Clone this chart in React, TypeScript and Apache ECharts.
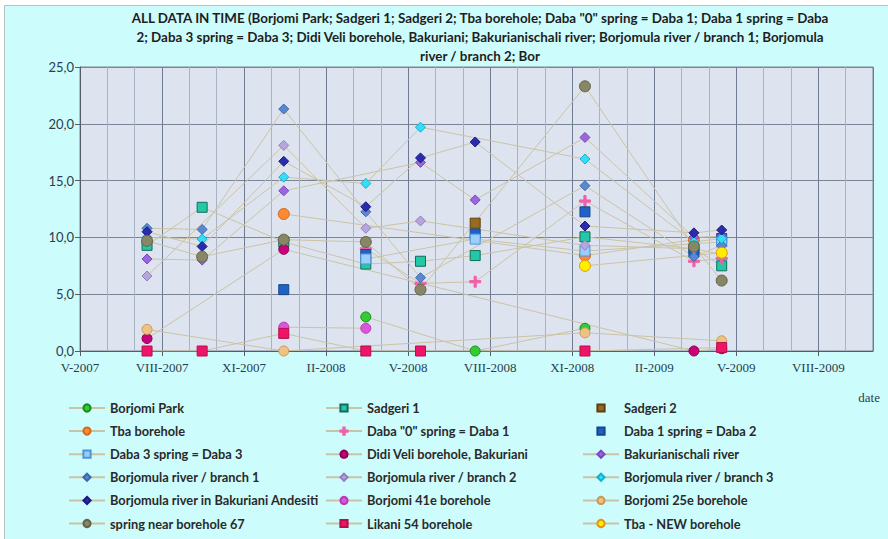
import React, { useEffect, useRef } from "react";
import * as echarts from "echarts";

// ---- data ----
const sampleDates = [
  "2007-07-15", "2007-09-15", "2007-12-15", "2008-03-15", "2008-05-15",
  "2008-07-15", "2008-11-15", "2009-03-15", "2009-04-15",
];

const borjomiPark = [null, null, null, 3.0, null, 0.0, 2.0, null, null];
const sadgeri1 = [9.3, 12.65, 9.6, 7.65, 7.9, 8.4, 10.05, 9.0, 7.5];
const sadgeri2 = [null, null, null, null, null, 11.25, null, null, null];
const tbaBorehole = [null, null, 12.06, null, null, null, 8.4, 9.8, null];
const daba0 = [null, null, null, 9.0, 5.95, 6.1, 13.2, 7.9, 8.15];
const daba1 = [null, null, 5.4, 8.5, null, 10.3, 12.25, 8.7, 9.9];
const daba3 = [null, null, null, 8.1, null, 9.85, 8.8, null, 9.6];
const didiVeli = [1.1, null, 8.95, null, null, null, null, 0.0, 0.2];
const bakurianischali = [8.1, 8.0, 14.1, null, 16.6, 13.3, 18.8, 10.0, 10.1];
const branch1 = [10.8, 10.7, 21.3, 12.25, 6.45, null, 14.55, 8.3, 9.3];
const branch2 = [6.6, null, 18.1, 10.8, 11.45, null, 9.3, 9.0, 8.5];
const branch3 = [10.0, 9.85, 15.3, 14.75, 19.7, null, 16.9, 9.6, 9.9];
const andesiti = [10.5, 9.2, 16.7, 12.7, 17.0, 18.4, 11.0, 10.4, 10.65];
const borjomi41e = [null, null, 2.1, 2.0, null, null, null, null, null];
const borjomi25e = [1.9, null, 0.0, null, null, null, 1.6, null, 0.9];
const spring67 = [9.7, 8.3, 9.8, 9.6, 5.4, null, 23.3, 9.2, 6.2];
const likani54 = [0, 0, 1.55, 0, 0, null, 0, null, 0.3];
const tbaNew = [null, null, null, null, null, null, 7.5, null, 8.65];

const yTicks = [0, 5, 10, 15, 20, 25];
const romanMonths = ["I", "II", "III", "IV", "V", "VI", "VII", "VIII", "IX", "X", "XI", "XII"];
const axisStart = { year: 2007, month: 5 }; // V-2007
const axisMonths = 29; // up to X-2009

const titleLines = [
  'ALL DATA IN TIME (Borjomi Park; Sadgeri 1; Sadgeri 2; Tba borehole; Daba "0" spring = Daba 1; Daba 1 spring = Daba',
  "2; Daba 3 spring = Daba 3; Didi Veli borehole, Bakuriani; Bakurianischali river; Borjomula river / branch 1; Borjomula",
  "river / branch 2; Bor",
];

const PLUS = "path://M4,0H6V4H10V6H6V10H4V6H0V4H4Z";

type Def = {
  name: string;
  values: (number | null)[];
  symbol: string;
  size: number;
  color: string;
  border: string;
  noLine?: boolean;
};

const seriesDefs: Def[] = [
  { name: "Borjomi Park", values: borjomiPark, symbol: "circle", size: 10, color: "#33cc33", border: "#1a8a1a" },
  { name: "Sadgeri 1", values: sadgeri1, symbol: "rect", size: 10, color: "#22c9a6", border: "#136b5a" },
  { name: "Sadgeri 2", values: sadgeri2, symbol: "rect", size: 10, color: "#9a6a1e", border: "#5e400e", noLine: true },
  { name: "Tba borehole", values: tbaBorehole, symbol: "circle", size: 11, color: "#ff8a33", border: "#d06a1a" },
  { name: 'Daba "0" spring = Daba 1', values: daba0, symbol: PLUS, size: 11, color: "#f060a8", border: "#f060a8" },
  { name: "Daba 1 spring = Daba 2", values: daba1, symbol: "rect", size: 10, color: "#1f62c4", border: "#15478f", noLine: true },
  { name: "Daba 3 spring = Daba 3", values: daba3, symbol: "rect", size: 10, color: "#9dcdfa", border: "#4f93d8" },
  { name: "Didi Veli borehole, Bakuriani", values: didiVeli, symbol: "circle", size: 10, color: "#c8007a", border: "#8a0050" },
  { name: "Bakurianischali river", values: bakurianischali, symbol: "diamond", size: 10, color: "#9a66dd", border: "#7a48c0" },
  { name: "Borjomula river / branch 1", values: branch1, symbol: "diamond", size: 10, color: "#5a88cf", border: "#3c68b0" },
  { name: "Borjomula river / branch 2", values: branch2, symbol: "diamond", size: 10, color: "#b6a6dc", border: "#9080c0" },
  { name: "Borjomula river / branch 3", values: branch3, symbol: "diamond", size: 10, color: "#35def5", border: "#12b0d0" },
  { name: "Borjomula river in Bakuriani Andesiti", values: andesiti, symbol: "diamond", size: 10, color: "#2b2bae", border: "#1a1a80" },
  { name: "Borjomi 41e borehole", values: borjomi41e, symbol: "circle", size: 10, color: "#dd55dd", border: "#b03cb0" },
  { name: "Borjomi 25e borehole", values: borjomi25e, symbol: "circle", size: 10, color: "#eec283", border: "#c89a58" },
  { name: "spring near borehole 67", values: spring67, symbol: "circle", size: 11, color: "#878765", border: "#63634a" },
  { name: "Likani 54 borehole", values: likani54, symbol: "rect", size: 10, color: "#ee1468", border: "#b80e4e" },
  { name: "Tba - NEW borehole", values: tbaNew, symbol: "circle", size: 11, color: "#ffee00", border: "#e89400" },
];

function monthIndex(dateStr: string): number {
  const [y, m, d] = dateStr.split("-").map(Number);
  const dim = new Date(y, m, 0).getDate();
  return (y - axisStart.year) * 12 + (m - axisStart.month) + (d - 1) / dim;
}

function monthLabel(v: number): string {
  const total = axisStart.month - 1 + Math.round(v);
  const year = axisStart.year + Math.floor(total / 12);
  return romanMonths[total % 12] + "-" + year;
}

export default function App() {
  const ref = useRef<HTMLDivElement>(null);
  useEffect(() => {
    if (!ref.current) return;
    const chart = echarts.init(ref.current, undefined, { renderer: "svg" });
    const xs = sampleDates.map(monthIndex);
    const series = seriesDefs.map((s) => ({
      name: s.name,
      type: "line",
      data: s.values.map((v, i) => [xs[i], v]).filter((p) => p[1] !== null),
      symbol: s.symbol,
      symbolSize: s.size,
      showAllSymbol: true,
      connectNulls: true,
      itemStyle: { color: s.color, borderColor: s.border, borderWidth: 1, opacity: 1 },
      lineStyle: { color: "#cbc3a6", width: 1, opacity: s.noLine ? 0 : 1 },
      emphasis: { disabled: true },
    }));
    const cols = [0, 1, 2].map((c) => seriesDefs.filter((_, i) => i % 3 === c).map((s) => s.name));
    const legendLefts = [68, 325, 582];
    chart.setOption({
      animation: false,
      backgroundColor: "transparent",
      title: {
        text: titleLines.join("\n"),
        left: 480,
        top: 8,
        padding: 0,
        textAlign: "center",
        textStyle: {
          fontFamily: "Lato",
          fontSize: 13.4,
          fontWeight: "bold",
          color: "#1e1e1e",
          lineHeight: 19,
        },
      },
      grid: {
        left: 80,
        right: 15,
        top: 67,
        bottom: 188,
        show: true,
        backgroundColor: "#dde4ef",
        borderColor: "#7d8799",
        borderWidth: 1,
      },
      legend: cols.map((data, c) => ({
        data,
        orient: "vertical",
        left: legendLefts[c],
        top: 401.5,
        padding: 0,
        itemWidth: 36,
        itemHeight: 9,
        itemGap: 10.1,
        textStyle: {
          fontFamily: "Lato",
          fontSize: 12.8,
          fontWeight: "bold",
          color: "#2a2a2a",
          lineHeight: 12,
        },
        selectedMode: false,
      })),
      xAxis: {
        type: "value",
        min: 0,
        max: axisMonths,
        interval: 3,
        axisLine: { show: true, lineStyle: { color: "#555c66", width: 1 } },
        axisTick: { show: true, length: 5, lineStyle: { color: "#555c66" } },
        axisLabel: {
          formatter: (v: number) => monthLabel(v),
          showMaxLabel: false,
          margin: 10,
          fontFamily: "Liberation Serif",
          fontSize: 13,
          color: "#2b3c4e",
        },
        splitLine: { show: true, lineStyle: { color: "#6f7b90", width: 1 } },
        minorTick: { show: false, splitNumber: 3 },
        minorSplitLine: { show: true, lineStyle: { color: "#a9b3c6", width: 1 } },
      },
      yAxis: {
        type: "value",
        min: yTicks[0],
        max: yTicks[yTicks.length - 1],
        interval: yTicks[1] - yTicks[0],
        axisLine: { show: true, lineStyle: { color: "#555c66", width: 1 } },
        axisTick: { show: true, length: 5, lineStyle: { color: "#555c66" } },
        axisLabel: {
          formatter: (v: number) => v.toFixed(1).replace(".", ","),
          margin: 6,
          fontFamily: "Lato",
          fontSize: 13,
          color: "#2b3c4e",
        },
        splitLine: { show: true, lineStyle: { color: "#7b8598", width: 1 } },
      },
      graphic: [
        {
          type: "text",
          right: 8,
          top: 391,
          style: {
            text: "date",
            fontFamily: "Liberation Serif",
            fontSize: 13,
            fill: "#2b3c4e",
          },
        },
      ],
      series,
    });
    return () => chart.dispose();
  }, []);

  return (
    <div style={{ position: "fixed", left: 0, top: 0, width: 888, height: 539, background: "#ffffff" }}>
      <div
        style={{
          position: "absolute",
          left: 4,
          top: 5,
          width: 884,
          height: 534,
          background: "#cdfcfc",
          borderLeft: "1px solid #b9c3c3",
          borderTop: "1px solid #b9c3c3",
          boxSizing: "border-box",
        }}
      />
      <div ref={ref} style={{ position: "absolute", left: 0, top: 0, width: 888, height: 539 }} />
    </div>
  );
}
